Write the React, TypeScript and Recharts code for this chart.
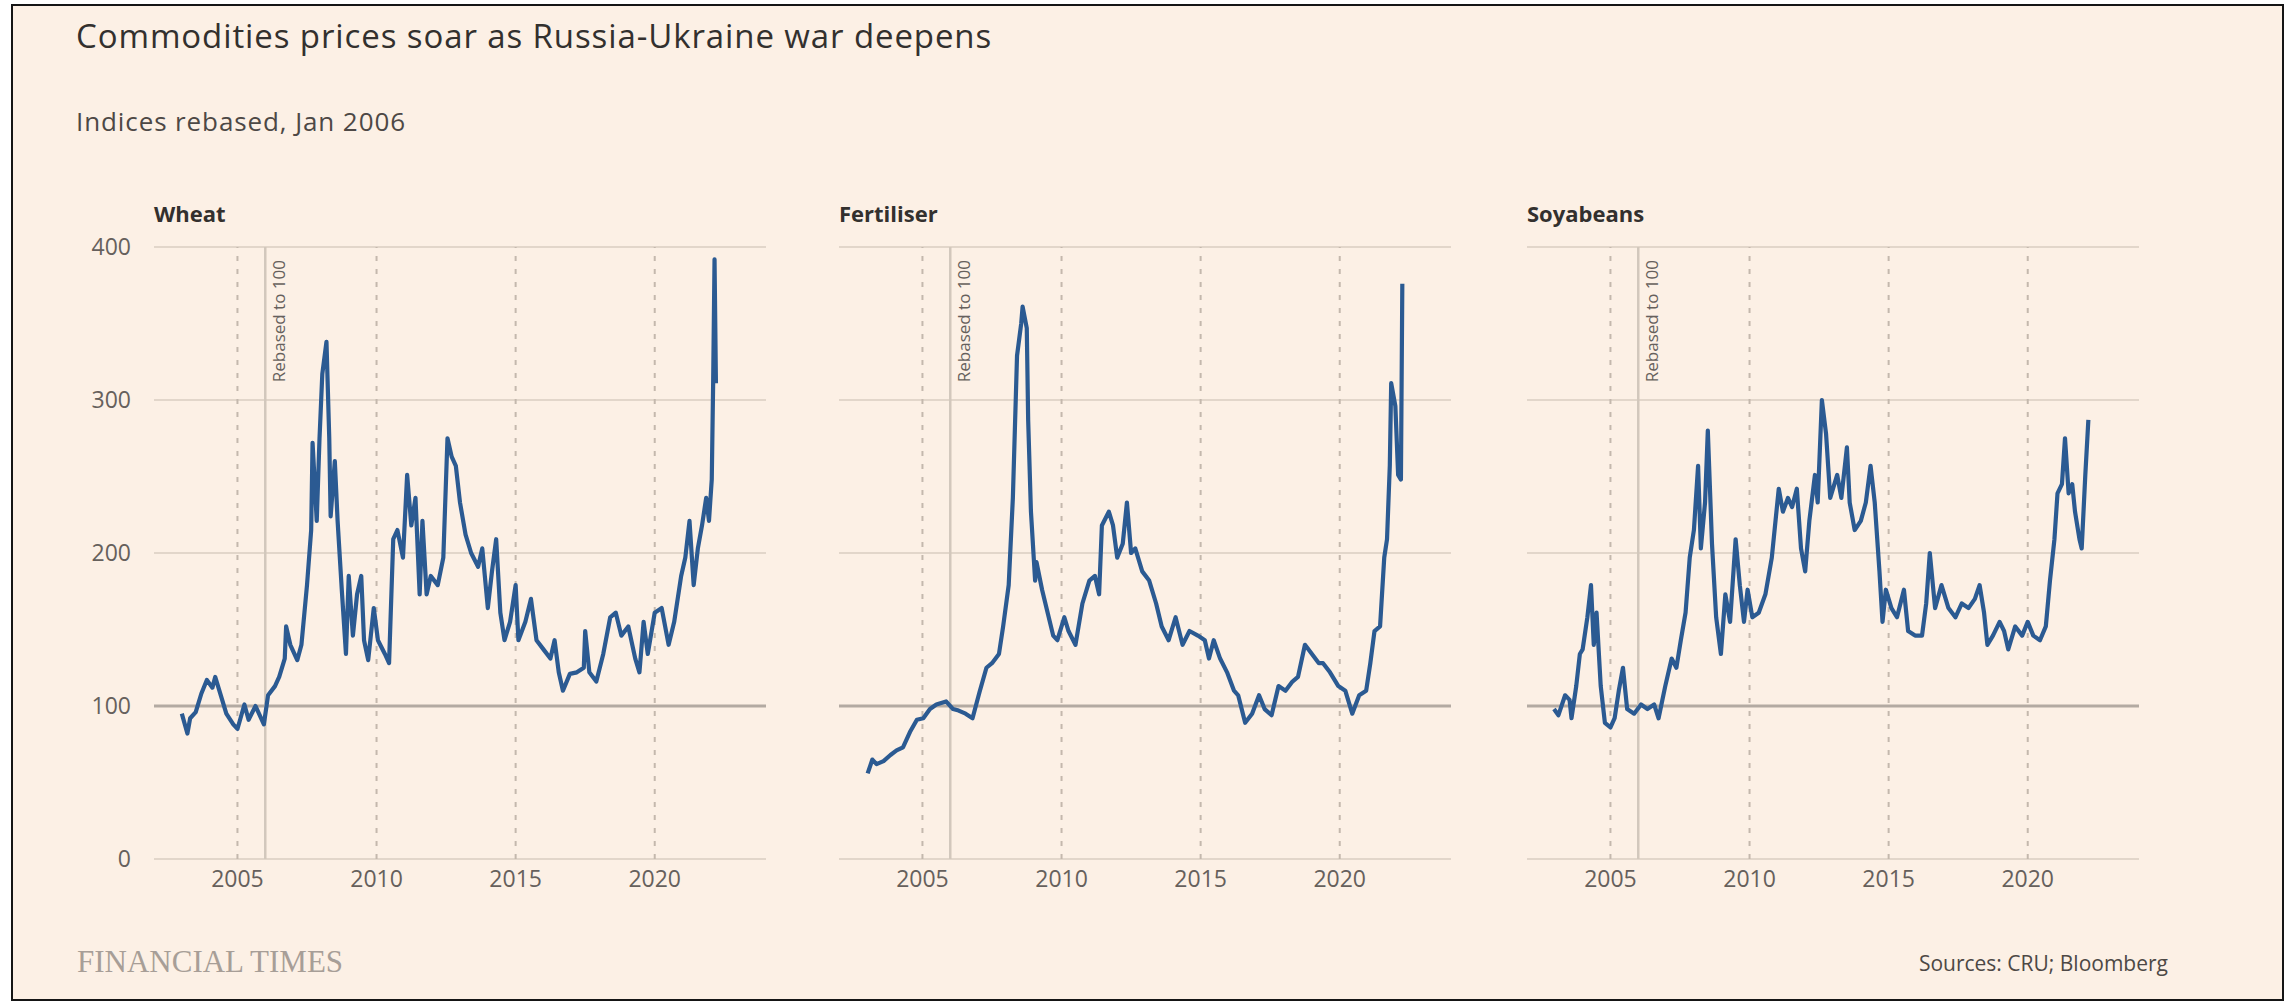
import React from 'react';
import { LineChart, Line, XAxis, YAxis, ReferenceLine } from 'recharts';

// Axis setup
const yearTicks = [2005, 2010, 2015, 2020];
const valueTicks = [0, 100, 200, 300, 400];
const rebaseYear = 2006;

// Wheat, indices rebased Jan 2006 = 100
const wheatYears = [
  2003.0, 2003.2, 2003.3, 2003.5, 2003.7, 2003.9, 2004.1, 2004.2, 2004.35, 2004.6,
  2004.85, 2005.0, 2005.25, 2005.4, 2005.65, 2005.95, 2006.1, 2006.35, 2006.5, 2006.7,
  2006.75, 2006.9, 2007.15, 2007.3, 2007.5, 2007.65, 2007.7, 2007.85, 2007.95, 2008.05,
  2008.2, 2008.3, 2008.35, 2008.5, 2008.6, 2008.75, 2008.9, 2009.0, 2009.15, 2009.3,
  2009.45, 2009.55, 2009.7, 2009.9, 2010.05, 2010.3, 2010.45, 2010.6, 2010.75, 2010.95,
  2011.1, 2011.25, 2011.4, 2011.55, 2011.65, 2011.8, 2011.95, 2012.2, 2012.4, 2012.55,
  2012.7, 2012.85, 2013.0, 2013.2, 2013.4, 2013.65, 2013.8, 2014.0, 2014.15, 2014.3,
  2014.45, 2014.6, 2014.8, 2015.0, 2015.1, 2015.35, 2015.55, 2015.75, 2016.0, 2016.25,
  2016.4, 2016.55, 2016.7, 2016.95, 2017.2, 2017.45, 2017.5, 2017.65, 2017.9, 2018.15,
  2018.4, 2018.6, 2018.8, 2019.05, 2019.3, 2019.45, 2019.6, 2019.75, 2020.0, 2020.25,
  2020.5, 2020.7, 2020.95, 2021.1, 2021.25, 2021.4, 2021.55, 2021.7, 2021.85, 2021.95,
  2022.05, 2022.1, 2022.15, 2022.2,
];
const wheatValues = [
  95, 82, 92, 96, 108, 117, 112, 119, 110, 95,
  88, 85, 101, 91, 100, 88, 107, 113, 119, 131,
  152, 140, 130, 140, 179, 215, 272, 221, 275, 317,
  338, 275, 224, 260, 221, 176, 134, 185, 146, 173,
  185, 143, 130, 164, 143, 134, 128, 209, 215, 197,
  251, 218, 236, 173, 221, 173, 185, 179, 197, 275,
  263, 257, 233, 212, 200, 191, 203, 164, 188, 209,
  161, 143, 155, 179, 143, 155, 170, 143, 137, 131,
  143, 122, 110, 121, 122, 125, 149, 122, 116, 134,
  158, 161, 146, 152, 131, 122, 155, 134, 161, 164,
  140, 155, 185, 197, 221, 179, 203, 218, 236, 221,
  248, 311, 392, 311,
];

// Fertiliser
const fertYears = [
  2003.03, 2003.2, 2003.35, 2003.6, 2003.85, 2004.07, 2004.3, 2004.55, 2004.8, 2005.03,
  2005.27, 2005.5, 2005.85, 2006.1, 2006.3, 2006.55, 2006.8, 2007.05, 2007.3, 2007.5,
  2007.75, 2007.9, 2008.1, 2008.25, 2008.4, 2008.55, 2008.6, 2008.75, 2008.8, 2008.9,
  2009.05, 2009.1, 2009.3, 2009.5, 2009.7, 2009.85, 2010.1, 2010.25, 2010.5, 2010.75,
  2011.0, 2011.2, 2011.35, 2011.45, 2011.7, 2011.85, 2012.0, 2012.2, 2012.35, 2012.5,
  2012.65, 2012.9, 2013.15, 2013.4, 2013.6, 2013.85, 2014.1, 2014.35, 2014.6, 2014.9,
  2015.15, 2015.3, 2015.47, 2015.7, 2015.95, 2016.2, 2016.35, 2016.6, 2016.85, 2017.1,
  2017.3, 2017.55, 2017.8, 2018.05, 2018.3, 2018.5, 2018.75, 2019.0, 2019.25, 2019.4,
  2019.65, 2019.95, 2020.2, 2020.45, 2020.7, 2020.95, 2021.1, 2021.25, 2021.45, 2021.6,
  2021.7, 2021.8, 2021.85, 2022.0, 2022.1, 2022.2, 2022.25,
];
const fertValues = [
  56, 65, 62, 64, 68, 71, 73, 83, 91, 92,
  98, 101, 103, 98, 97, 95, 92, 109, 125, 128,
  134, 152, 179, 236, 329, 350, 361, 347, 287, 227,
  182, 194, 176, 161, 146, 143, 158, 149, 140, 167,
  182, 185, 173, 218, 227, 218, 197, 206, 233, 200,
  203, 188, 182, 167, 152, 143, 158, 140, 149, 146,
  143, 131, 143, 131, 122, 110, 107, 89, 95, 107,
  98, 94, 113, 110, 116, 119, 140, 134, 128, 128,
  122, 113, 110, 95, 107, 110, 128, 149, 152, 197,
  209, 257, 311, 296, 251, 248, 376,
];

// Soyabeans
const soyYears = [
  2002.97, 2003.13, 2003.37, 2003.53, 2003.6, 2003.77, 2003.9, 2004.0, 2004.17, 2004.3,
  2004.4, 2004.5, 2004.65, 2004.8, 2005.0, 2005.15, 2005.3, 2005.45, 2005.6, 2005.85,
  2006.1, 2006.33, 2006.57, 2006.73, 2006.97, 2007.2, 2007.37, 2007.53, 2007.7, 2007.85,
  2008.0, 2008.15, 2008.25, 2008.4, 2008.5, 2008.65, 2008.8, 2008.97, 2009.13, 2009.3,
  2009.5, 2009.65, 2009.8, 2009.93, 2010.1, 2010.33, 2010.57, 2010.8, 2011.05, 2011.2,
  2011.38, 2011.53, 2011.7, 2011.85, 2012.0, 2012.15, 2012.35, 2012.45, 2012.6, 2012.75,
  2012.9, 2013.15, 2013.3, 2013.5, 2013.6, 2013.78, 2014.0, 2014.18, 2014.35, 2014.5,
  2014.67, 2014.78, 2014.9, 2015.1, 2015.3, 2015.55, 2015.7, 2015.95, 2016.2, 2016.35,
  2016.48, 2016.67, 2016.9, 2017.15, 2017.4, 2017.63, 2017.87, 2018.1, 2018.27, 2018.43,
  2018.55, 2018.75, 2018.99, 2019.15, 2019.3, 2019.55, 2019.8, 2020.0, 2020.2, 2020.44,
  2020.65, 2020.8, 2020.96, 2021.07, 2021.23, 2021.34, 2021.47, 2021.6, 2021.7, 2021.86,
  2021.94, 2022.07, 2022.18,
];
const soyValues = [
  98, 94, 107, 104, 92, 113, 134, 137, 158, 179,
  140, 161, 113, 89, 86, 92, 110, 125, 98, 95,
  101, 98, 101, 92, 113, 131, 125, 143, 161, 197,
  215, 257, 203, 233, 280, 206, 158, 134, 173, 155,
  209, 179, 155, 176, 158, 161, 173, 197, 242, 227,
  236, 230, 242, 203, 188, 221, 251, 233, 300, 278,
  236, 251, 236, 269, 233, 215, 221, 233, 257, 233,
  188, 155, 176, 164, 158, 176, 149, 146, 146, 167,
  200, 164, 179, 164, 158, 167, 164, 170, 179, 161,
  140, 146, 155, 149, 137, 152, 146, 155, 146, 143,
  152, 182, 209, 239, 245, 275, 239, 245, 227, 209,
  203, 251, 287,
];

const toRows = (years: number[], values: number[]) =>
  years.map((t, i) => ({ t, v: values[i] }));

const FONT = '"Open Sans", sans-serif';
const LINE = '#2b5a92';
const GRID = '#e2d6ca';
const TEXT = '#66605c';

const panels = [
  { title: 'Wheat', rows: toRows(wheatYears, wheatValues), left: 74, width: 702, showY: true },
  { title: 'Fertiliser', rows: toRows(fertYears, fertValues), left: 819, width: 642, showY: false },
  { title: 'Soyabeans', rows: toRows(soyYears, soyValues), left: 1507, width: 642, showY: false },
];

const RebasedLabel = ({ viewBox }: any) => {
  const x = viewBox.x + 13;
  const y = viewBox.y + 13;
  return (
    <text
      x={x}
      y={y}
      transform={`rotate(-90 ${x} ${y})`}
      textAnchor="end"
      dominantBaseline="central"
      fontSize={17}
      fontFamily={FONT}
      fill={TEXT}
    >
      Rebased to 100
    </text>
  );
};

const Panel = ({ title, rows, left, width, showY }: any) => {
  const plotLeft = left + 20 + (showY ? 60 : 0);
  return (
    <>
      <div
        style={{
          position: 'absolute',
          left: plotLeft,
          top: 202,
          fontFamily: FONT,
          fontWeight: 700,
          fontSize: 22,
          lineHeight: 1,
          color: '#33302e',
          whiteSpace: 'nowrap',
        }}
      >
        {title}
      </div>
      <div style={{ position: 'absolute', left, top: 200 }}>
        <LineChart width={width} height={720} data={rows} margin={{ top: 47, right: 10, bottom: 21, left: 20 }}>
          <XAxis
            dataKey="t"
            type="number"
            domain={[2002, 2024]}
            ticks={yearTicks}
            axisLine={false}
            tickLine={false}
            tickSize={0}
            tickMargin={12}
            height={40}
            tick={{ fill: TEXT, fontSize: 23, fontFamily: FONT }}
          />
          <YAxis
            type="number"
            domain={[0, 400]}
            ticks={valueTicks}
            hide={!showY}
            width={60}
            axisLine={false}
            tickLine={false}
            tickSize={0}
            tickMargin={23}
            tick={{ fill: TEXT, fontSize: 23, fontFamily: FONT }}
          />
          {valueTicks.map((v) => (
            <ReferenceLine key={`h${v}`} y={v} stroke={v === 100 ? '#b3aaa2' : GRID} strokeWidth={v === 100 ? 3 : 2} />
          ))}
          {yearTicks.map((yr) => (
            <ReferenceLine key={`v${yr}`} x={yr} stroke="#c4b8ad" strokeWidth={2} strokeDasharray="5 8" />
          ))}
          <ReferenceLine x={rebaseYear} stroke="#d2c7bc" strokeWidth={2.5} label={<RebasedLabel />} />
          <Line
            type="linear"
            dataKey="v"
            stroke={LINE}
            strokeWidth={4.2}
            strokeLinejoin="round"
            dot={false}
            activeDot={false}
            isAnimationActive={false}
          />
        </LineChart>
      </div>
    </>
  );
};

export default function App() {
  return (
    <div
      style={{
        position: 'absolute',
        left: 0,
        top: 0,
        width: 2293,
        height: 1003,
        background: '#ffffff',
        overflow: 'hidden',
      }}
    >
      <div
        style={{
          position: 'absolute',
          left: 11,
          top: 4,
          width: 2273,
          height: 997,
          boxSizing: 'border-box',
          border: '2px solid #151515',
          background: '#fcf0e5',
        }}
      />
      <div
        style={{
          position: 'absolute',
          left: 76,
          top: 19,
          fontFamily: FONT,
          fontSize: 33,
          letterSpacing: 0.9,
          lineHeight: 1,
          color: '#33302e',
          whiteSpace: 'nowrap',
        }}
      >
        Commodities prices soar as Russia-Ukraine war deepens
      </div>
      <div
        style={{
          position: 'absolute',
          left: 76,
          top: 108,
          fontFamily: FONT,
          fontSize: 26,
          letterSpacing: 0.9,
          lineHeight: 1,
          color: '#4d4845',
          whiteSpace: 'nowrap',
        }}
      >
        Indices rebased, Jan 2006
      </div>
      {panels.map((p) => (
        <Panel key={p.title} {...p} />
      ))}
      <div
        style={{
          position: 'absolute',
          left: 77,
          top: 946,
          fontFamily: '"Liberation Serif", serif',
          fontSize: 31,
          lineHeight: 1,
          color: '#a79e97',
          whiteSpace: 'nowrap',
        }}
      >
        FINANCIAL TIMES
      </div>
      <div
        style={{
          position: 'absolute',
          right: 125,
          top: 953,
          fontFamily: FONT,
          fontSize: 21,
          lineHeight: 1,
          color: '#4d4845',
          whiteSpace: 'nowrap',
        }}
      >
        Sources: CRU; Bloomberg
      </div>
    </div>
  );
}
